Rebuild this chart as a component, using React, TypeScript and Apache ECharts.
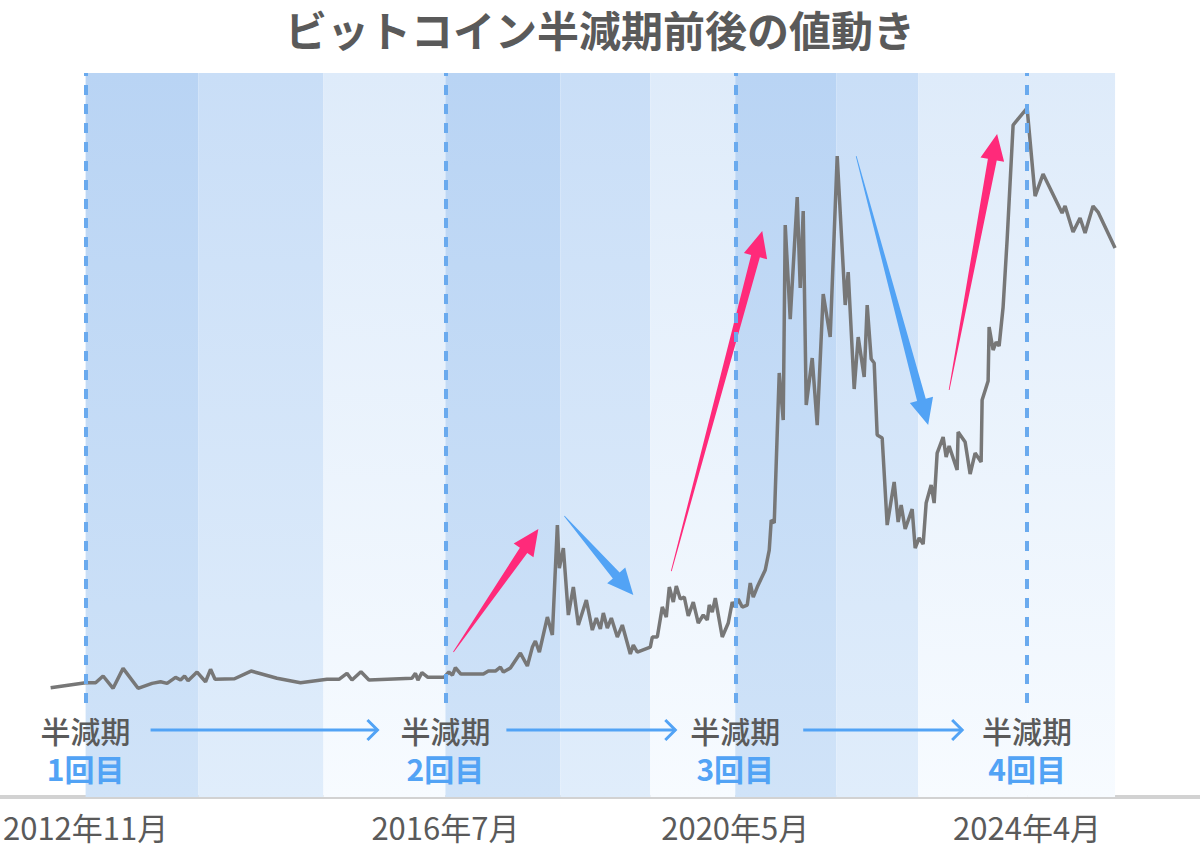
import React, { useEffect, useRef } from "react";
import * as echarts from "echarts";

// 横軸は等間隔のサンプル位置、縦軸は価格(千ドル)
const priceX = [
  0, 7, 9, 10.5, 12.5, 14.5, 17.5, 20.3, 22, 23.3,
  25, 26, 26.8, 27.5, 29.3, 31, 32, 32.9, 36.8, 40.1,
  45.3, 50, 55.3, 57.7, 59.3, 60.3, 62.1, 63.7, 72.3, 73,
  73.5, 74.3, 75.5, 78.7, 79.7, 80.4, 81, 82.1, 86.6, 87.6,
  89, 90, 90.6, 92, 94, 95.4, 96.4, 97, 97.8, 99.4,
  100.4, 101.4, 101.8, 102.6, 103.6, 104.6, 105.6, 107.2, 108.4, 109.2,
  110, 110.6, 111.4, 112.2, 113.4, 114.4, 116, 116.6, 117.4, 120,
  120.4, 121.4, 122.4, 123.2, 123.8, 124.6, 125.2, 126, 126.8, 127.6,
  128.6, 129.6, 130.6, 131.4, 131.8, 132.4, 133, 134.4, 135.6, 136.4,
  137, 137.6, 138.4, 139.4, 140, 140.6, 141.4, 143, 143.8, 144.2,
  144.8, 145.8, 146.6, 147, 148, 149.4, 150, 150.6, 151.2, 152.4,
  153.4, 154.6, 156, 157.4, 159, 159.6, 160.8, 161.6, 162.8, 163.4,
  164.2, 164.8, 165.4, 166.4, 167.4, 168.8, 169.6, 170.2, 171, 172.4,
  173, 173.8, 174.6, 175.2, 176.2, 176.8, 177.4, 178.6, 179.2, 179.8,
  181.4, 181.6, 183, 184, 185, 186.2, 186.4, 187.6, 187.8, 188.6,
  189.2, 189.8, 190.6, 191.4, 192.6, 195.4, 197, 198.6, 202.4, 203,
  204.6, 206, 207, 208.6, 209.6, 213,
];

const priceK = [
  0.25, 0.89, 0.89, 1.74, 0.18, 2.71, 0.18, 0.81, 1.01, 0.81,
  1.57, 1.23, 1.74, 1.14, 2.24, 1.01, 2.59, 1.32, 1.39, 2.37,
  1.45, 0.89, 1.32, 1.32, 2.08, 1.23, 2.28, 1.23, 1.45, 2.08,
  1.23, 2.16, 1.57, 1.57, 2.24, 1.86, 2.79, 1.99, 1.99, 2.37,
  2.37, 2.88, 2.24, 2.75, 4.65, 3.01, 5.41, 6.18, 4.78, 9.22,
  6.94, 20.88, 15.43, 17.97, 9.47, 13.02, 8.2, 11.37, 7.57, 9.09,
  7.7, 9.73, 7.82, 9.09, 6.68, 8.2, 4.53, 5.67, 4.78, 5.41,
  6.68, 6.68, 10.49, 9.22, 13.02, 11.12, 13.15, 11.5, 11.75, 9.35,
  11.12, 8.46, 9.47, 8.84, 10.74, 9.85, 11.63, 6.68, 8.46, 11.12,
  10.49, 11.5, 10.49, 10.74, 13.53, 11.75, 13.02, 15.18, 17.71, 21.52,
  21.14, 40.16, 34.2, 58.92, 47.0, 62.47, 50.94, 60.7, 36.1, 42.06,
  33.56, 50.17, 44.72, 67.67, 48.78, 52.96, 38.13, 44.72, 39.65, 48.78,
  41.93, 41.43, 32.3, 31.92, 20.88, 26.34, 21.26, 23.42, 20.38, 22.91,
  17.97, 19.24, 18.47, 23.67, 25.96, 23.67, 30.01, 32.04, 29.51, 30.9,
  27.86, 32.68, 31.41, 27.35, 30.01, 28.87, 36.73, 39.14, 45.99, 43.07,
  44.09, 43.58, 48.53, 57.02, 71.6, 73.76, 62.6, 65.39, 60.45, 61.33,
  58.04, 59.81, 57.91, 61.33, 60.57, 56.01,
];

// 半減期
const halvingX = [7, 79, 137, 195.4];
const halvingDates = ["2012年11月", "2016年7月", "2020年5月", "2024年4月"];
const halvingCounts = ["1回目", "2回目", "3回目", "4回目"];

// 背景の帯 [開始, 終了, 濃さ]
const bands: [number, number, number][] = [
  [7, 29.6, 0], [29.6, 54.6, 1], [54.6, 79, 2],
  [79, 102, 0], [102, 120, 1], [120, 137, 2],
  [137, 157.2, 0], [157.2, 173.6, 1], [173.6, 195.4, 2], [195.4, 213, 2],
];

// トレンド矢印 [始点x, 始点y, 終点x, 終点y, 上昇=1]
const trendArrows = [
  [80.6, 4.78, 97.6, 20.38, 1],
  [102.8, 22.03, 116.6, 12.01, 0],
  [124.2, 15.05, 142.4, 58.16, 1],
  [161.2, 67.67, 175.6, 33.56, 0],
  [179.8, 38.0, 189.4, 70.46, 1],
];

// 半減期間の横矢印 [始点x, 終点x]
const flowArrows = [
  [20, 65.4],
  [91.2, 125],
  [150.6, 182.4],
];

const labelY = -5.11;
const countY = -9.93;
const dashBottom = -1.69;

const FONT = '"Noto Sans CJK JP", "Noto Sans", sans-serif';
const PINK = "#ff2a7a";
const BLUE = "#52a3f5";
const shades = [
  ["#b9d4f4", "#d0e3f8"],
  ["#c9def7", "#e0edfb"],
  ["#deebfa", "#f7fbff"],
];

const App = () => {
  const chartRef = useRef<HTMLDivElement>(null);

  useEffect(() => {
    document.body.style.margin = "0";
    const chart = echarts.init(chartRef.current, null, { renderer: "svg" });

    const priceData = priceX.map((x, i) => [x, priceK[i]]);

    const options = {
      animation: false,
      backgroundColor: "#ffffff",
      title: {
        text: "ビットコイン半減期前後の値動き",
        left: "center",
        top: 2,
        textStyle: {
          fontFamily: FONT,
          fontSize: 42,
          fontWeight: "bold",
          color: "#5a5a5a",
        },
      },
      grid: { left: 0, right: 0, top: 73, bottom: 47 },
      xAxis: {
        type: "value",
        min: -10,
        max: 230,
        axisLine: { show: true, onZero: false, lineStyle: { color: "#d2d2d2", width: 4 } },
        axisTick: { show: false },
        splitLine: { show: false },
        axisLabel: {
          customValues: halvingX,
          margin: 14,
          fontFamily: FONT,
          fontSize: 31,
          lineHeight: 31,
          color: "#5a5a5a",
          formatter: (v: number) => {
            const i = halvingX.indexOf(v);
            return i >= 0 ? halvingDates[i] : "";
          },
        },
      },
      yAxis: {
        type: "value",
        min: -13.6,
        max: 78.2,
        show: false,
        splitLine: { show: false },
      },
      series: [
        {
          type: "line",
          z: 1,
          data: [],
          silent: true,
          markArea: {
            silent: true,
            data: bands.map(([a, b, s]) => [
              {
                xAxis: a,
                itemStyle: {
                  color: {
                    type: "linear",
                    x: 0, y: 0, x2: 0, y2: 1,
                    colorStops: [
                      { offset: 0, color: shades[s][0] },
                      { offset: 1, color: shades[s][1] },
                    ],
                  },
                },
              },
              { xAxis: b },
            ]),
          },
        },
        {
          type: "line",
          z: 2,
          data: [],
          silent: true,
          markLine: {
            silent: true,
            symbol: "none",
            label: { show: false },
            lineStyle: { color: "#6aaaee", width: 4, type: [10, 9] },
            data: halvingX.map((x) => [
              { coord: [x, dashBottom] },
              { coord: [x, 78.2] },
            ]),
          },
        },
        {
          type: "line",
          z: 3,
          data: priceData,
          showSymbol: false,
          symbol: "none",
          lineStyle: { color: "#777777", width: 3.5 },
          silent: true,
        },
        {
          type: "custom",
          z: 4,
          silent: true,
          data: trendArrows,
          renderItem: (params: any, api: any) => {
            const p0 = api.coord([api.value(0), api.value(1)]);
            const p1 = api.coord([api.value(2), api.value(3)]);
            const dx = p1[0] - p0[0];
            const dy = p1[1] - p0[1];
            const len = Math.sqrt(dx * dx + dy * dy);
            const ux = dx / len;
            const uy = dy / len;
            const nx = -uy;
            const ny = ux;
            const L = 26, W = 12, w = 4.5, t = 0.4;
            const bx = p1[0] - ux * L;
            const by = p1[1] - uy * L;
            return {
              type: "polygon",
              shape: {
                points: [
                  [p0[0] + nx * t, p0[1] + ny * t],
                  [bx + nx * w, by + ny * w],
                  [bx + nx * W, by + ny * W],
                  [p1[0], p1[1]],
                  [bx - nx * W, by - ny * W],
                  [bx - nx * w, by - ny * w],
                  [p0[0] - nx * t, p0[1] - ny * t],
                ],
              },
              style: { fill: api.value(4) ? PINK : BLUE },
            };
          },
        },
        {
          type: "custom",
          z: 4,
          silent: true,
          data: flowArrows,
          renderItem: (params: any, api: any) => {
            const a = api.coord([api.value(0), labelY]);
            const b = api.coord([api.value(1), labelY]);
            const st = { stroke: BLUE, lineWidth: 3, fill: "none" };
            return {
              type: "group",
              children: [
                { type: "line", shape: { x1: a[0], y1: a[1], x2: b[0], y2: b[1] }, style: st },
                {
                  type: "polyline",
                  shape: { points: [[b[0] - 10, b[1] - 10], [b[0], b[1]], [b[0] - 10, b[1] + 10]] },
                  style: st,
                },
              ],
            };
          },
        },
        {
          type: "custom",
          z: 5,
          silent: true,
          data: halvingX.map((x, i) => [x, i]),
          renderItem: (params: any, api: any) => {
            const i = api.value(1);
            const p = api.coord([api.value(0), labelY]);
            const q = api.coord([api.value(0), countY]);
            return {
              type: "group",
              children: [
                {
                  type: "text",
                  x: p[0],
                  y: p[1],
                  style: {
                    text: "半減期",
                    fill: "#5a5a5a",
                    font: `500 30px ${FONT}`,
                    align: "center",
                    verticalAlign: "middle",
                  },
                },
                {
                  type: "text",
                  x: q[0],
                  y: q[1],
                  style: {
                    text: halvingCounts[i],
                    fill: BLUE,
                    font: `bold 30px ${FONT}`,
                    align: "center",
                    verticalAlign: "middle",
                  },
                },
              ],
            };
          },
        },
      ],
    };

    chart.setOption(options);
    return () => chart.dispose();
  }, []);

  return <div ref={chartRef} style={{ width: "1200px", height: "844px" }} />;
};

export default App;
